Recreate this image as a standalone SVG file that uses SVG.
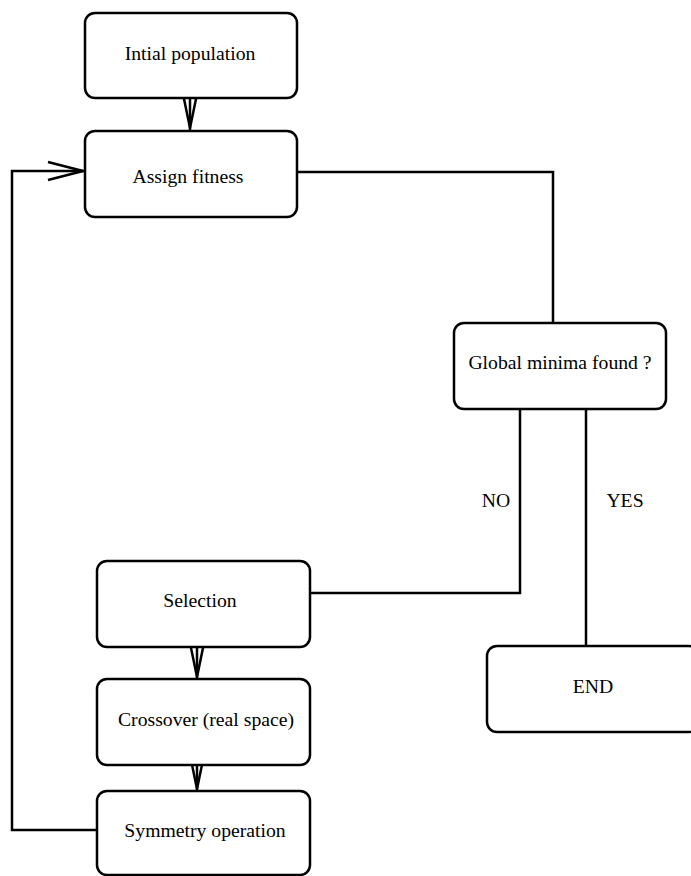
<svg xmlns="http://www.w3.org/2000/svg" width="691" height="876" viewBox="0 0 691 876">
<style>
.box{fill:#fff;stroke:#000;stroke-width:2.5}
.ln{fill:none;stroke:#000;stroke-width:2.5}
.ah{fill:none;stroke:#000;stroke-width:2.5}
text{font-family:"Liberation Serif","Times New Roman",serif;font-size:19.7px;fill:#000;text-anchor:middle}
</style>
<rect width="691" height="876" fill="#fff"/>
<g id="connectors">
<line class="ln" x1="190" y1="98" x2="190" y2="130"/>
<polyline class="ah" points="183,94 190,128 197,94"/>
<polyline class="ln" points="297,172 553,172 553,323"/>
<polyline class="ln" points="520,409 520,593 310,593"/>
<line class="ln" x1="586" y1="409" x2="586" y2="646"/>
<line class="ln" x1="197" y1="647" x2="197" y2="679"/>
<polyline class="ah" points="190,643 197,677 204,643"/>
<line class="ln" x1="197" y1="765" x2="197" y2="791"/>
<polyline class="ah" points="190,755 197,789 204,755"/>
<polyline class="ln" points="97,830 12,830 12,171 84,171"/>
<polyline class="ah" points="48,162 83,171 48,180"/>
<text x="496" y="507">NO</text>
<text x="625" y="507">YES</text>
</g>
<g id="n1"><rect class="box" x="85" y="13" width="212" height="85" rx="10"/><text x="190" y="60">Intial population</text></g>
<g id="n2"><rect class="box" x="85" y="131" width="212" height="86" rx="10"/><text x="188" y="183">Assign fitness</text></g>
<g id="n3"><rect class="box" x="454" y="323" width="212" height="86" rx="10"/><text x="560" y="369">Global minima found ?</text></g>
<g id="n4"><rect class="box" x="97" y="561" width="213" height="86" rx="10"/><text x="200" y="607">Selection</text></g>
<g id="n5"><rect class="box" x="97" y="679" width="213" height="86" rx="10"/><text x="206" y="726">Crossover (real space)</text></g>
<g id="n6"><rect class="box" x="97" y="791" width="213" height="84" rx="10"/><text x="205" y="837">Symmetry operation</text></g>
<g id="n7"><rect class="box" x="487" y="646" width="212" height="86" rx="10"/><text x="593" y="693">END</text></g>
</svg>
